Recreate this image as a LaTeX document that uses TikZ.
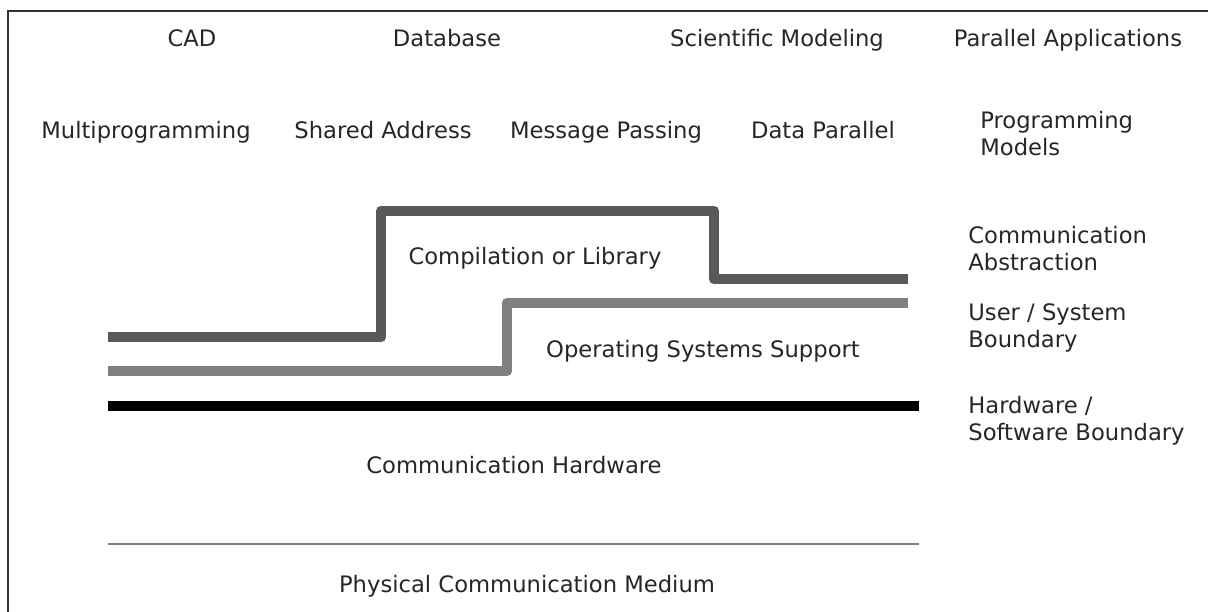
\documentclass[tikz,border=0pt]{standalone}
\usepackage{fontspec}
\setmainfont{DejaVu Sans}
\usetikzlibrary{positioning}
\definecolor{darkline}{HTML}{595959}
\definecolor{midline}{HTML}{808080}
\definecolor{frameline}{HTML}{333333}
\tikzstyle{txt}=[inner sep=0pt,font=\fontsize{12.9}{15.4}\selectfont,text=black!85]
\tikzstyle{lbl}=[txt,text height=9.4pt,text depth=0pt]
\tikzstyle{side}=[txt,anchor=west,align=left]
\tikzstyle{layer}=[line width=6.2pt,line join=round]
\newcommand{\newLabel}[3]{\node[lbl](#1) at #2 {#3};}
\newcommand{\newSide}[3]{\node[side](#1) at #2 {#3};}

\begin{document}
\begin{tikzpicture}[x=0.02cm,y=-0.02cm]
      \useasboundingbox (0,0) rectangle (1208,612);
      \draw[frameline,line width=1.3pt] (8,620) -- (8,11) -- (1215,11);

      % applications
      \newLabel{cad}{(192,38)}{CAD}
      \newLabel{db}{(447,38)}{Database}
      \newLabel{sci}{(777,38)}{Scientific Modeling}
      \newLabel{apps}{(1068,38)}{Parallel Applications}

      % programming models
      \newLabel{multi}{(146,130)}{Multiprogramming}
      \newLabel{shared}{(383,130)}{Shared Address}
      \newLabel{msg}{(606,130)}{Message Passing}
      \newLabel{data}{(823,130)}{Data Parallel}
      \newSide{models}{(980,134)}{Programming\\Models}

      % layers
      \newLabel{comp}{(535,256)}{Compilation or Library}
      \newLabel{os}{(703,349)}{Operating Systems Support}
      \newLabel{hw}{(514,465)}{Communication Hardware}
      \newLabel{phys}{(527,584)}{Physical Communication Medium}

      \newSide{abstr}{(968,249)}{Communication\\Abstraction}
      \newSide{usb}{(968,328)}{User / System\\Boundary}
      \newSide{hsb}{(968,421)}{Hardware /\\Software Boundary}

      % boundaries
      \draw[layer,darkline] (108,337) -- (381,337) -- (381,211) -- (714,211)
            -- (714,279) -- (908,279);
      \draw[layer,midline] (108,371) -- (507,371) -- (507,303) -- (908,303);
      \draw[layer,black] (108,406) -- (919,406);
      \draw[midline,line width=1pt] (108,544) -- (919,544);
    \end{tikzpicture}
\end{document}
